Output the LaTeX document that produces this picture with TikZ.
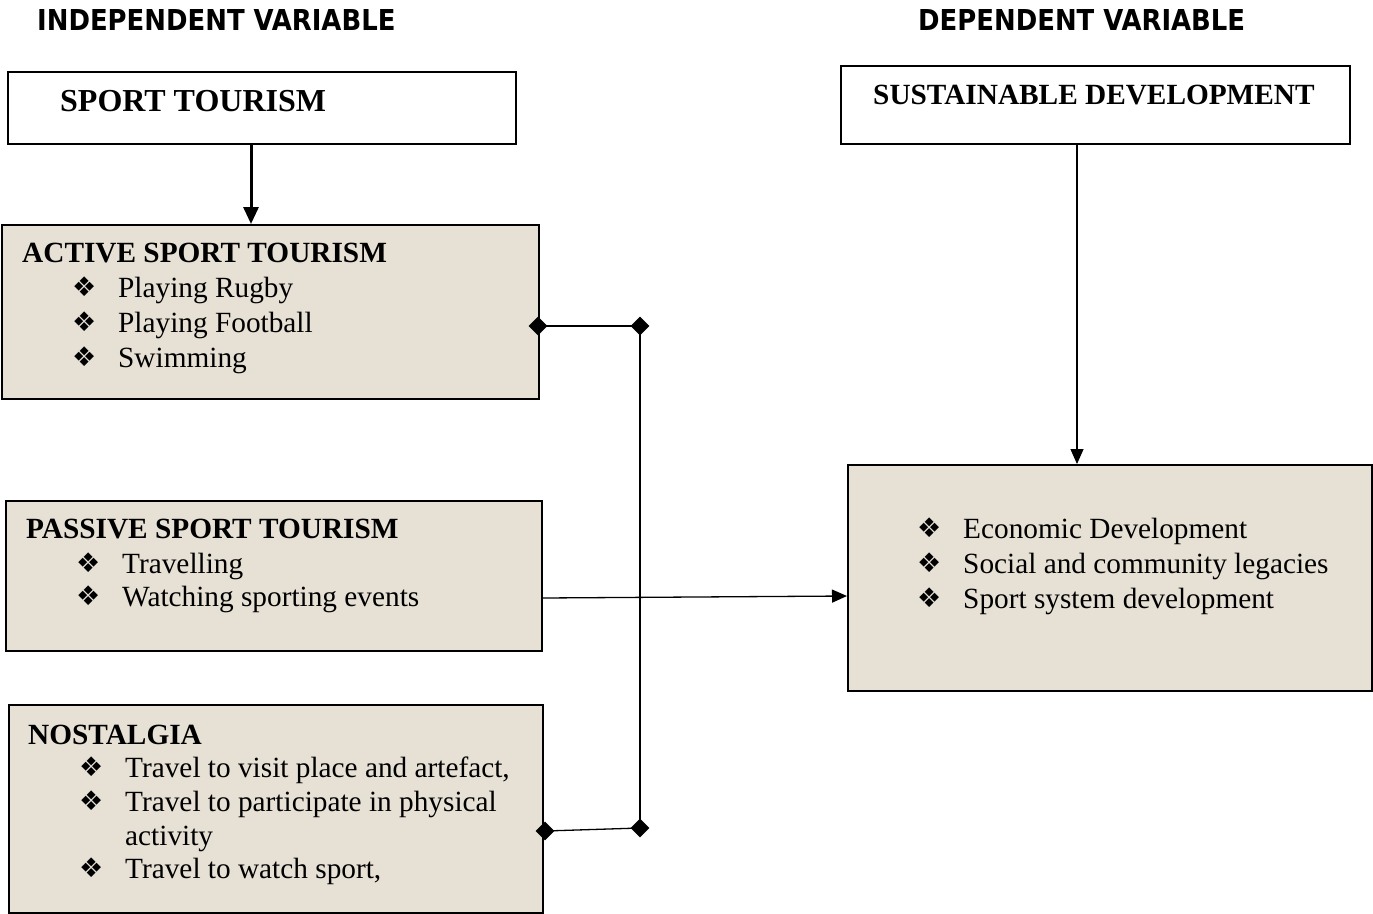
\documentclass[tikz,border=0pt]{standalone}
\usepackage{fontspec}
\setmainfont{Liberation Serif}
\newfontfamily\hdrfont{DejaVu Sans Condensed}
\newfontfamily\dingfont{DejaVu Sans}
\usetikzlibrary{arrows.meta,shapes.geometric}
\definecolor{paper}{HTML}{E6E0D5}
\tikzset{
  whitebox/.style={draw=black, line width=1.8pt, fill=white, inner sep=0pt, anchor=north west},
  texbox/.style={draw=black, line width=1.8pt, fill=paper, inner sep=0pt, anchor=north west},
  hdr/.style={anchor=base west, inner sep=0pt, font=\hdrfont\bfseries\fontsize{28.8}{32}\selectfont},
  ttl/.style={anchor=base west, inner sep=0pt, font=\bfseries\fontsize{29.3}{34}\selectfont},
  itm/.style={anchor=base west, inner sep=0pt, font=\fontsize{29.3}{34}\selectfont},
  bul/.style={anchor=base west, inner sep=0pt, font=\dingfont\fontsize{27}{30}\selectfont},
  jn/.style={diamond, fill=black, inner sep=0pt, minimum size=19pt},
  conn/.style={draw=black, line width=1.3pt},
  tip/.style={-{Triangle[length=15pt,width=13pt]}}
}
\begin{document}
\begin{tikzpicture}[x=1pt,y=-1pt]
\useasboundingbox (0,0) rectangle (1373,913);

% headers
\node[hdr] (h1) at (37,30) {INDEPENDENT VARIABLE};
\node[hdr] (h2) at (918,30) {DEPENDENT VARIABLE};

% boxes
\node[whitebox, minimum width=508pt, minimum height=72pt] (st) at (7,71) {};
\node[whitebox, minimum width=509pt, minimum height=78pt] (sd) at (840,65) {};
\node[texbox, minimum width=537pt, minimum height=174pt] (act) at (1,224) {};
\node[texbox, minimum width=536pt, minimum height=150pt] (pas) at (5,500) {};
\node[texbox, minimum width=534pt, minimum height=208pt] (nos) at (8,704) {};
\node[texbox, minimum width=524pt, minimum height=226pt] (dev) at (847,464) {};

% titles
\node[ttl, font=\bfseries\fontsize{32}{36}\selectfont] (stt) at (60,111) {SPORT TOURISM};
\node[ttl] (sdt) at (873,104) {SUSTAINABLE DEVELOPMENT};
\node[ttl] (actt) at (22,262) {ACTIVE SPORT TOURISM};
\node[ttl] (past) at (26,538) {PASSIVE SPORT TOURISM};
\node[ttl] (nost) at (28,744) {NOSTALGIA};

% active items
\node[bul] (ab1) at (72,296) {❖};
\node[itm] (a1) at (118,297) {Playing Rugby};
\node[bul] (ab2) at (72,331) {❖};
\node[itm] (a2) at (118,332) {Playing Football};
\node[bul] (ab3) at (72,366) {❖};
\node[itm] (a3) at (118,367) {Swimming};

% passive items
\node[bul] (pb1) at (76,572) {❖};
\node[itm] (p1) at (122,573) {Travelling};
\node[bul] (pb2) at (76,605) {❖};
\node[itm] (p2) at (122,606) {Watching sporting events};

% nostalgia items
\node[bul] (nb1) at (79,776) {❖};
\node[itm] (n1) at (125,777) {Travel to visit place and artefact,};
\node[bul] (nb2) at (79,810) {❖};
\node[itm] (n2) at (125,811) {Travel to participate in physical};
\node[itm] (n2b) at (125,845) {activity};
\node[bul] (nb3) at (79,877) {❖};
\node[itm] (n3) at (125,878) {Travel to watch sport,};

% development items
\node[bul] (db1) at (917,537) {❖};
\node[itm] (d1) at (963,538) {Economic Development};
\node[bul] (db2) at (917,572) {❖};
\node[itm] (d2) at (963,573) {Social and community legacies};
\node[bul] (db3) at (917,607) {❖};
\node[itm] (d3) at (963,608) {Sport system development};

% connectors
\draw[line width=3pt, -{Triangle[length=17pt,width=15pt]}] (st.south -| 251,0) -- (act.north -| 251,0);
\draw[conn, tip] (sd.south -| 1077,0) -- (dev.north -| 1077,0);
\draw[conn, tip] (pas.east |- 0,598) -- (dev.west |- 0,596);

\coordinate (ja) at (640,326);
\coordinate (jb) at (640,828);
\node[jn] (da) at (538,326) {};
\node[jn] (db) at (ja) {};
\node[jn] (dc) at (545,831) {};
\node[jn] (dd) at (jb) {};
\draw[conn] (da.center) -- (db.center) -- (dd.center);
\draw[conn] (dc.center) -- (dd.center);
\end{tikzpicture}
\end{document}
